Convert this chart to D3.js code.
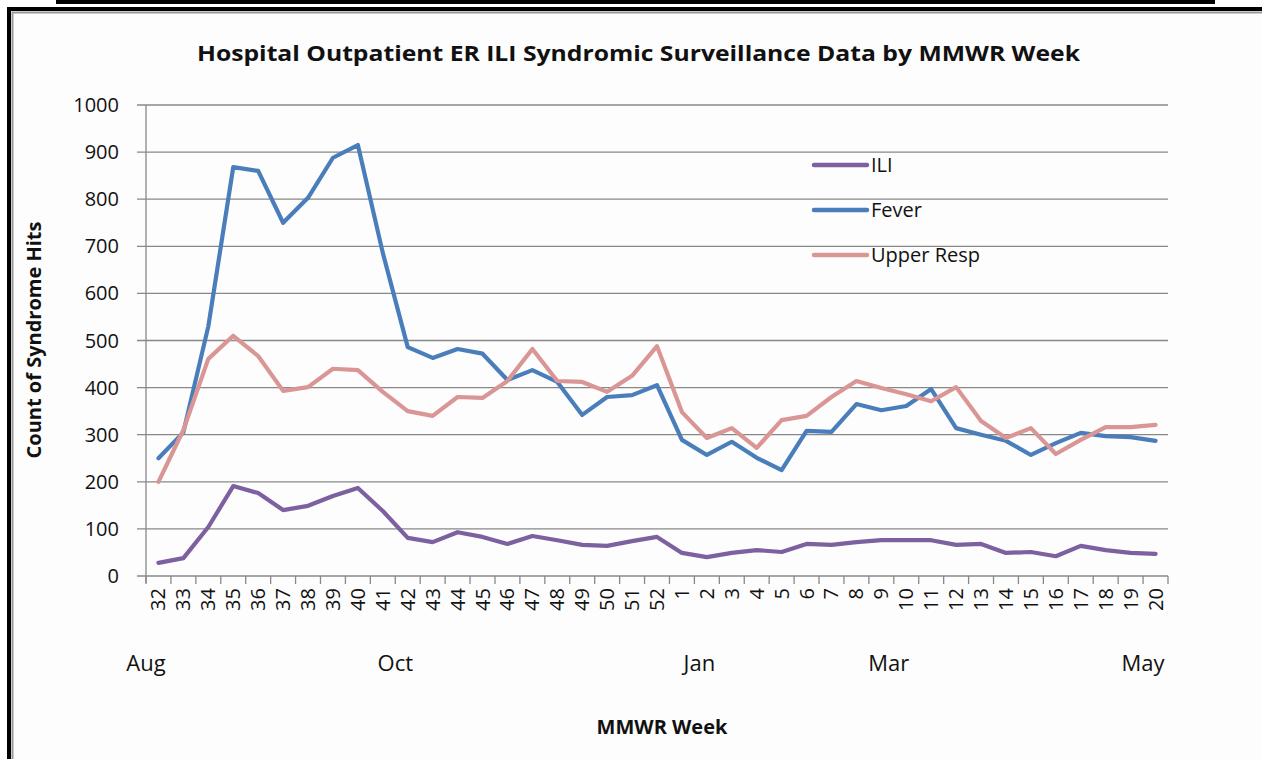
<!DOCTYPE html>
<html><head><meta charset="utf-8">
<script src="https://cdn.jsdelivr.net/npm/d3@7"></script>
<style>
html,body{margin:0;padding:0;background:#fff;overflow:hidden}
text{font-family:"Open Sans",sans-serif;fill:#111}
</style></head>
<body><svg id="c" width="1262" height="759"></svg>
<script>
const weeks = ["32","33","34","35","36","37","38","39","40","41","42","43","44","45","46","47","48","49","50","51","52","1","2","3","4","5","6","7","8","9","10","11","12","13","14","15","16","17","18","19","20"];
const ili = [28,38,104,191,176,140,149,170,187,138,81,72,93,83,68,85,76,66,64,74,83,49,40,49,55,51,68,66,72,76,76,76,66,68,49,51,42,64,55,49,47];
const fever = [250,305,530,868,860,750,803,888,915,686,486,463,482,472,416,437,412,342,380,384,405,289,257,285,251,225,308,306,365,352,361,397,314,300,287,257,282,304,297,295,287];
const upperResp = [200,310,461,510,467,393,401,440,437,391,350,340,380,378,414,482,414,412,391,425,488,348,293,314,272,331,340,380,414,399,386,371,401,329,293,314,259,289,316,316,321];
const yTicks = [0,100,200,300,400,500,600,700,800,900,1000];
const seriesNames = ["ILI","Fever","Upper Resp"];
const seriesColors = ["#7D60A0","#4A7EBB","#D99694"];
const monthLabels = ["Aug","Oct","Jan","Mar","May"];
const monthAt = [0,10,22.2,29.8,40];   // positions in week-slot units
const titleText = "Hospital Outpatient ER ILI Syndromic Surveillance Data by MMWR Week";

const svg = d3.select("#c");
// frame
svg.append("rect").attr("x",0).attr("y",0).attr("width",1262).attr("height",759).attr("fill","#fff");
svg.append("rect").attr("x",56).attr("y",0).attr("width",1159).attr("height",4).attr("fill","#000");
svg.append("rect").attr("x",9).attr("y",9).attr("width",1270).attr("height",770).attr("fill","#fdfdfd").attr("stroke","#000").attr("stroke-width",4);
svg.append("rect").attr("x",12.5).attr("y",12.5).attr("width",1270).attr("height",770).attr("fill","none").attr("stroke","#999").attr("stroke-width",2);

const L=146,R=1168,T=105,B=576;
const x = d3.scaleBand().domain(d3.range(weeks.length)).range([L,R]);
const xc = i => x(i)+x.bandwidth()/2;
const y = d3.scaleLinear().domain([0,1000]).range([B,T]);

// gridlines
svg.append("g").selectAll("line").data(yTicks).join("line")
  .attr("x1",137).attr("x2",R).attr("y1",d=>y(d)).attr("y2",d=>y(d))
  .attr("stroke","#888").attr("stroke-width",1.3);
// y axis
svg.append("line").attr("x1",L).attr("x2",L).attr("y1",T).attr("y2",B+7).attr("stroke","#888").attr("stroke-width",1.3);
svg.append("g").selectAll("text").data(yTicks).join("text")
  .attr("x",119).attr("y",d=>y(d)+7).attr("text-anchor","end").attr("font-size",20).text(d=>d);
// x ticks
const bounds = d3.range(weeks.length+1).map(i=>L+i*x.step());
svg.append("g").selectAll("line").data(bounds).join("line")
  .attr("x1",d=>d).attr("x2",d=>d).attr("y1",B).attr("y2",B+8).attr("stroke","#888").attr("stroke-width",1.3);
svg.append("g").selectAll("text").data(weeks).join("text")
  .attr("transform",(d,i)=>`translate(${xc(i)+7},588) rotate(-90)`)
  .attr("text-anchor","end").attr("font-size",20).text(d=>d);
// month labels
svg.append("g").selectAll("text").data(monthLabels).join("text")
  .attr("x",(d,i)=>L+monthAt[i]*x.step()).attr("y",671).attr("text-anchor","middle").attr("font-size",22).text(d=>d);

// lines
const line = d3.line().x((d,i)=>xc(i)).y(d=>y(d));
[ili,fever,upperResp].forEach((s,k)=>{
  svg.append("path").datum(s).attr("d",line).attr("fill","none")
    .attr("stroke",seriesColors[k]).attr("stroke-width",4.2).attr("stroke-linejoin","round").attr("stroke-linecap","round");
});

// legend
seriesNames.forEach((n,k)=>{
  const yy = 165+k*45;
  svg.append("line").attr("x1",814).attr("x2",867).attr("y1",yy).attr("y2",yy)
    .attr("stroke",seriesColors[k]).attr("stroke-width",4.5).attr("stroke-linecap","round");
  svg.append("text").attr("x",871).attr("y",yy+7).attr("font-size",20).text(n);
});

// titles
svg.append("text").attr("x",197).attr("y",61).attr("font-size",22).attr("font-weight","bold")
  .attr("textLength",883).attr("lengthAdjust","spacingAndGlyphs").text(titleText);
svg.append("text").attr("transform","translate(41,340) rotate(-90)").attr("text-anchor","middle")
  .attr("font-size",20).attr("font-weight","bold").text("Count of Syndrome Hits");
svg.append("text").attr("x",662).attr("y",734).attr("text-anchor","middle")
  .attr("font-size",20).attr("font-weight","bold").text("MMWR Week");
</script></body></html>
